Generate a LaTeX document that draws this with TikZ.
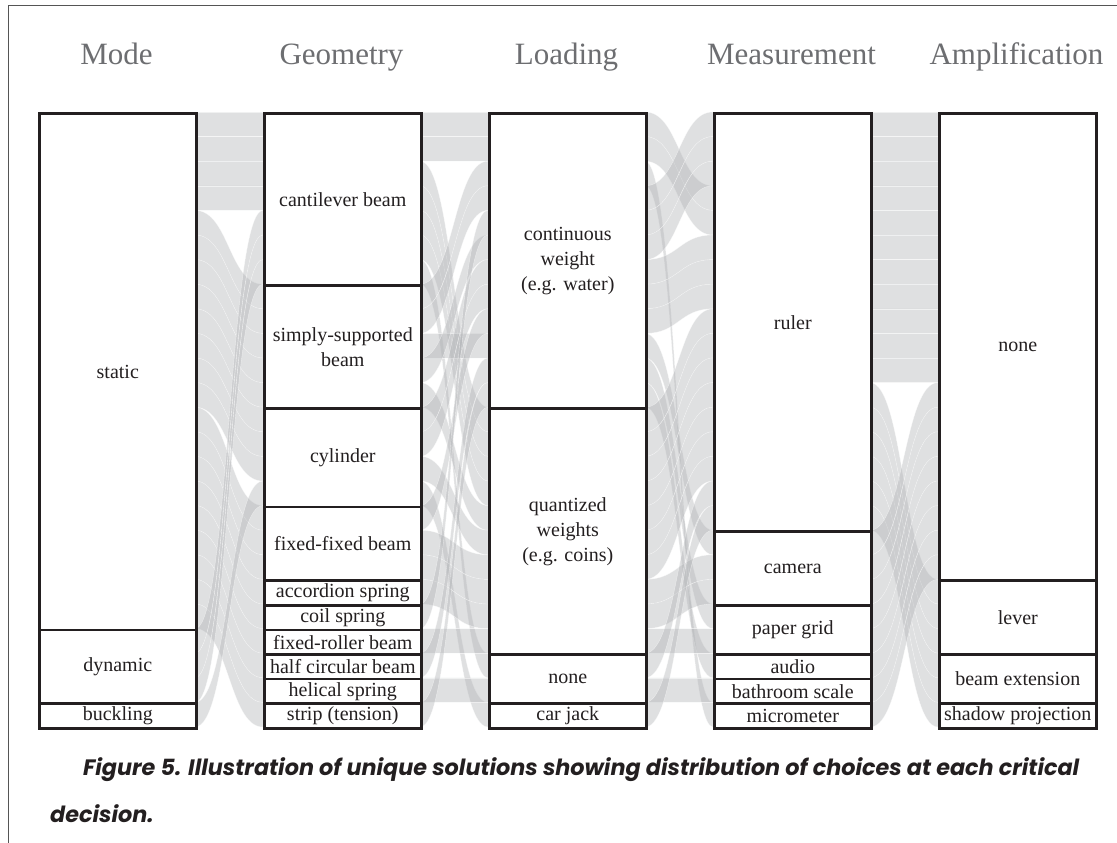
\documentclass[tikz,border=0pt]{standalone}
\usepackage{fontspec}
\setmainfont{Liberation Serif}
\newfontfamily\capfont{Poppins}
\definecolor{hdrc}{HTML}{6D6E71}
\definecolor{boxc}{HTML}{231F20}
\definecolor{ribc}{HTML}{B0B2B5}
\definecolor{framec}{HTML}{555555}
\newcommand\drawribbon[3]{%
 \pgfmathsetmacro\rxa{195+225*#1}%
 \pgfmathsetmacro\rxb{\rxa+68}%
 \pgfmathsetmacro\rxm{\rxa+34}%
 \pgfmathsetmacro\rya{112+24.6*#2}%
 \pgfmathsetmacro\ryb{112+24.6*#3}%
 \pgfmathsetmacro\ryc{\rya+24.6}%
 \pgfmathsetmacro\ryd{\ryb+24.6}%
 \path[ribbon] (\rxa,\rya) .. controls (\rxm,\rya) and (\rxm,\ryb) .. (\rxb,\ryb) -- (\rxb,\ryd) .. controls (\rxm,\ryd) and (\rxm,\ryc) .. (\rxa,\ryc) -- cycle;}
\newcommand\catbox[5]{%
 \node[catbox, minimum height={24.6*#4}, anchor=north west] (#1) at ({38+225*#2},{112+24.6*#3}) {#5};}
\begin{document}
\begin{tikzpicture}[x=1pt,y=-1pt,
  catbox/.style={draw=boxc, line width=2.6pt, fill=white, minimum width=157pt, inner sep=0pt, align=center, text=boxc, font=\fontsize{20}{25}\selectfont},
  ribbon/.style={fill=ribc, fill opacity=0.4, draw=white, draw opacity=0.55, line width=0.4pt},
  header/.style={anchor=base, text=hdrc, font=\fontsize{31}{36}\selectfont, inner sep=0pt},
  caption/.style={anchor=base west, text=boxc, inner sep=0pt, font=\capfont\bfseries\itshape\fontsize{22.3}{26}\selectfont},
  frame/.style={draw=framec, line width=1pt}]
\useasboundingbox (0,0) rectangle (1117,843);
\fill[white] (0,0) rectangle (1117,843);
% frame
\coordinate (fTL) at (8,6);
\coordinate (fTR) at (1117,6);
\coordinate (fBL) at (8,843);
\draw[frame] (fTR) -- (fTL) -- (fBL);
% headers
\node[header] (hMode) at (116.5,65) {Mode};
\node[header] (hGeom) at (341.5,65) {Geometry};
\node[header] (hLoad) at (566.5,65) {Loading};
\node[header] (hMeas) at (791.5,65) {Measurement};
\node[header] (hAmp) at (1016.5,65) {Amplification};
% ribbons: Mode -> Geometry
\foreach \a/\b in {0/0,1/1,2/2,3/3,4/7,5/8,6/9,7/10,8/11,9/12,10/13,11/14,12/16,13/17,14/18,15/19,16/20,17/21,18/22,19/23,20/24,21/4,22/5,23/6,24/15}
  {\drawribbon{0}{\a}{\b}}
% Geometry -> Loading
\foreach \a/\b in {0/0,1/1,2/12,3/13,4/14,5/15,6/22,7/2,8/3,9/9,10/5,11/16,12/6,13/7,14/17,15/24,16/8,17/18,18/19,19/20,20/4,21/21,22/10,23/23,24/11}
  {\drawribbon{1}{\a}{\b}}
% Loading -> Measurement
\foreach \a/\b in {0/3,1/4,2/24,3/0,4/1,5/2,6/5,7/6,8/7,9/17,10/20,11/22,12/8,13/9,14/10,15/11,16/12,17/13,18/14,19/18,20/19,21/21,22/15,23/23,24/16}
  {\drawribbon{2}{\a}{\b}}
% Measurement -> Amplification
\foreach \a/\b in {0/0,1/1,2/2,3/3,4/4,5/5,6/6,7/7,8/8,9/9,10/10,11/19,12/20,13/21,14/22,15/23,16/24,17/11,18/12,19/13,20/14,21/15,22/16,23/17,24/18}
  {\drawribbon{3}{\a}{\b}}
% Mode
\catbox{mStatic}{0}{0}{21}{static}
\catbox{mDynamic}{0}{21}{3}{dynamic}
\catbox{mBuckling}{0}{24}{1}{buckling}
% Geometry
\catbox{gCant}{1}{0}{7}{cantilever beam}
\catbox{gSimply}{1}{7}{5}{simply-supported\\beam}
\catbox{gCyl}{1}{12}{4}{cylinder}
\catbox{gFixed}{1}{16}{3}{fixed-fixed beam}
\catbox{gAcc}{1}{19}{1}{accordion spring}
\catbox{gCoil}{1}{20}{1}{coil spring}
\catbox{gRoller}{1}{21}{1}{fixed-roller beam}
\catbox{gHalf}{1}{22}{1}{half circular beam}
\catbox{gHelical}{1}{23}{1}{helical spring}
\catbox{gStrip}{1}{24}{1}{strip (tension)}
% Loading
\catbox{lCont}{2}{0}{12}{continuous\\weight\\(e.g. water)}
\catbox{lQuant}{2}{12}{10}{quantized\\weights\\(e.g. coins)}
\catbox{lNone}{2}{22}{2}{none}
\catbox{lJack}{2}{24}{1}{car jack}
% Measurement
\catbox{sRuler}{3}{0}{17}{ruler}
\catbox{sCamera}{3}{17}{3}{camera}
\catbox{sGrid}{3}{20}{2}{paper grid}
\catbox{sAudio}{3}{22}{1}{audio}
\catbox{sScale}{3}{23}{1}{bathroom scale}
\catbox{sMicro}{3}{24}{1}{micrometer}
% Amplification
\catbox{aNone}{4}{0}{19}{none}
\catbox{aLever}{4}{19}{3}{lever}
\catbox{aBeam}{4}{22}{2}{beam extension}
\catbox{aShadow}{4}{24}{1}{shadow projection}
% caption
\node[caption] (cap1) at (83,775) {Figure 5. Illustration of unique solutions showing distribution of choices at each critical};
\node[caption] (cap2) at (50,822) {decision.};
\end{tikzpicture}
\end{document}
